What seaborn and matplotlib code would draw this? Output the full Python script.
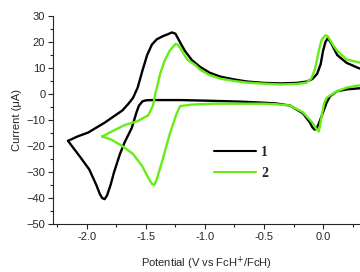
import numpy as np
import pandas as pd
import matplotlib.pyplot as plt
import seaborn as sns
from matplotlib.ticker import MultipleLocator
from matplotlib.lines import Line2D

# CV data (potential in V, current in uA)
pot_1 = [-2.16, -2.08, -1.99, -1.85, -1.70, -1.65, -1.61, -1.57, -1.53, -1.49, -1.45,
         -1.41, -1.36, -1.32, -1.28, -1.25, -1.23, -1.2, -1.17, -1.11, -1.04, -0.96,
         -0.87, -0.75, -0.64, -0.5, -0.36, -0.22, -0.14, -0.09, -0.05, -0.02, 0.0, 0.02,
         0.04, 0.07, 0.12, 0.2, 0.3, 0.33,
         0.33, 0.3, 0.2, 0.12, 0.06, 0.03, 0.0, -0.03, -0.05, -0.07, -0.09, -0.11, -0.17,
         -0.28, -0.4, -0.51, -0.7, -0.93, -1.21, -1.45, -1.5, -1.53, -1.56, -1.58, -1.62,
         -1.68, -1.72, -1.77, -1.8, -1.83, -1.85, -1.87, -1.89, -1.92, -1.98, -2.06, -2.16]
cur_1 = [-18.0, -16.3, -14.8, -11.0, -6.3, -3.8, -1.5, 2.5, 9.0, 15.0, 19.0,
         21.0, 22.2, 22.9, 23.7, 23.2, 21.5, 19.0, 16.6, 13.0, 10.4, 8.2,
         6.7, 5.6, 4.8, 4.3, 4.1, 4.3, 4.8, 5.8, 7.8, 11.5, 16.6, 20.0,
         21.5, 19.5, 15.0, 12.0, 10.0, 9.6,
         2.3, 2.2, 1.8, 1.1, -0.8, -3.3, -7.0, -10.7, -12.8, -13.7, -12.8, -11.0, -7.4,
         -4.4, -3.6, -3.3, -2.9, -2.6, -2.3, -2.3, -2.4, -2.8, -4.5, -7.0, -13.0,
         -18.5, -23.0, -30.0, -35.0, -39.0, -40.4, -40.0, -38.5, -35.0, -29.0, -24.0, -18.0]

pot_2 = [-1.87, -1.79, -1.68, -1.57, -1.48, -1.44, -1.42, -1.41, -1.38, -1.34, -1.30,
         -1.25, -1.23, -1.21, -1.18, -1.15, -1.08, -1.04, -0.96, -0.87, -0.75,
         -0.64, -0.5, -0.36, -0.22, -0.14, -0.1, -0.07, -0.05, -0.03, -0.01, 0.02, 0.04,
         0.06, 0.09, 0.12, 0.2, 0.3, 0.33,
         0.33, 0.3, 0.2, 0.12, 0.06, 0.03, 0.01, -0.01, -0.035, -0.055, -0.07, -0.09,
         -0.17, -0.28, -0.4, -0.51, -0.7, -0.93, -1.1, -1.21, -1.24, -1.27, -1.3, -1.33,
         -1.36, -1.39, -1.41, -1.43, -1.45, -1.47, -1.5, -1.53, -1.61, -1.70, -1.79, -1.87]
cur_2 = [-16.3, -14.4, -11.9, -10.4, -8.1, -4.4, 0.4, 1.9, 7.8, 13.0, 16.6,
         19.3, 19.0, 17.8, 15.4, 13.3, 11.1, 9.3, 7.3, 5.9, 5.0,
         4.4, 4.0, 3.7, 3.9, 4.4, 6.0, 9.3, 13.5, 17.8, 21.0, 22.6, 22.2,
         20.7, 18.5, 16.6, 13.3, 12.2, 12.0,
         3.4, 3.3, 2.5, 1.1, -0.5, -1.5, -3.5, -8.0, -14.4, -13.5, -12.5, -11.0,
         -7.0, -4.4, -3.9, -3.7, -3.7, -3.7, -4.0, -4.6, -7.5, -11.5, -15.6, -20.5,
         -25.5, -30.0, -33.0, -35.0, -34.5, -33.0, -30.5, -27.8, -23.0, -20.0, -17.6, -16.3]

labels = ["1", "2"]
colors = ["black", "#66ee14"]

df = pd.concat([
    pd.DataFrame({"pot": pot_1, "cur": cur_1, "sample": "1"}),
    pd.DataFrame({"pot": pot_2, "cur": cur_2, "sample": "2"}),
])

sns.set_style("ticks")
plt.rcParams["font.family"] = ["Liberation Sans", "DejaVu Sans"]

fig = plt.figure(figsize=(3.6, 2.72), dpi=100)
ax = fig.add_axes([0.147, 0.176, 0.852, 0.765])

for lab, col in zip(labels, colors):
    sub = df[df["sample"] == lab]
    sns.lineplot(data=sub, x="pot", y="cur", sort=False, estimator=None,
                 color=col, linewidth=1.7, ax=ax, legend=False)

ax.set_xlim(-2.288, 0.31)
ax.set_ylim(-50, 30)
ax.xaxis.set_major_locator(MultipleLocator(0.5))
ax.xaxis.set_minor_locator(MultipleLocator(0.25))
ax.yaxis.set_major_locator(MultipleLocator(10))
ax.yaxis.set_minor_locator(MultipleLocator(5))
ax.xaxis.set_major_formatter(plt.FuncFormatter(lambda v, p: f"{v:.1f}"))
ax.tick_params(which="major", direction="out", length=3.5, width=0.8, labelsize=8, pad=2)
ax.tick_params(which="minor", direction="out", length=2, width=0.8)
sns.despine(ax=ax)
for s in ["left", "bottom"]:
    ax.spines[s].set_linewidth(0.8)

ax.set_xlabel("Potential (V vs FcH$^{+}$/FcH)", fontsize=8, labelpad=9)
ax.set_ylabel("Current (\u03bcA)", fontsize=8, labelpad=3)

handles = [Line2D([], [], color=c, linewidth=1.5) for c in colors]
ax.legend(handles, labels, loc="upper left", bbox_to_anchor=(0.525, 0.375),
          frameon=False, handlelength=3.0, handletextpad=0.4, labelspacing=0.55,
          borderpad=0, borderaxespad=0,
          prop={"family": "Liberation Serif", "weight": "bold", "size": 10})

fig.savefig("out.png", dpi=100)
